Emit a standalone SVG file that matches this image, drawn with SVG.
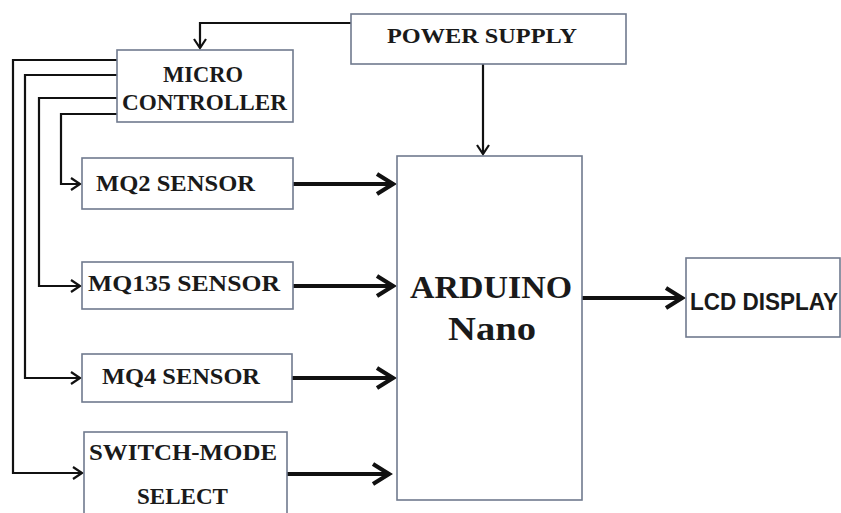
<svg xmlns="http://www.w3.org/2000/svg" width="841" height="513" viewBox="0 0 841 513">
<style>
.box{fill:#fff;stroke:#707a8e;stroke-width:1.6}
.t{font-family:"Liberation Serif","Times New Roman",serif;font-weight:bold;fill:#1a1a1a;text-anchor:middle}
.s{font-family:"Liberation Sans",Arial,sans-serif;font-weight:bold;fill:#1a1a1a;text-anchor:middle}
.thin{fill:none;stroke:#111;stroke-width:2.2;marker-end:url(#ah)}
.thick{fill:none;stroke:#111;stroke-width:4.2;marker-end:url(#ahb)}
.thinl{fill:none;stroke:#111;stroke-width:2.2}
</style>
<defs>
<marker id="ah" markerUnits="userSpaceOnUse" viewBox="0 0 14 16" markerWidth="14" markerHeight="16" refX="12" refY="8" orient="auto">
<path d="M3,2 L12,8 L3,14" fill="none" stroke="#111" stroke-width="2.2"/>
</marker>
<marker id="ahb" markerUnits="userSpaceOnUse" viewBox="0 0 24 26" markerWidth="24" markerHeight="26" refX="21" refY="13" orient="auto">
<path d="M4,3 L20,13 L4,23" fill="none" stroke="#111" stroke-width="4.2"/>
</marker>
</defs>
<rect width="841" height="513" fill="#fff"/>

<g id="connectors">
<path class="thin" d="M351,23 H200 V48"/>
<path class="thin" d="M483,64 V154"/>
<path class="thin" d="M117,60 H13 V473 H82"/>
<path class="thin" d="M117,75 H25 V378 H80"/>
<path class="thin" d="M117,98 H39 V286 H80"/>
<path class="thin" d="M117,114 H61 V184 H80"/>
<path class="thick" d="M293,184 H394"/>
<path class="thick" d="M293,286 H394"/>
<path class="thick" d="M292,378 H394"/>
<path class="thick" d="M287,474 H390"/>
<path class="thick" d="M582,298 H683"/>
</g>

<g id="power-supply">
<rect class="box" x="351" y="14" width="275" height="50"/>
<text class="t" x="482" y="43" font-size="22" textLength="190" lengthAdjust="spacingAndGlyphs">POWER SUPPLY</text>
</g>

<g id="micro-controller">
<rect class="box" x="117" y="50" width="176" height="72"/>
<text class="t" x="203" y="82" font-size="23" textLength="80" lengthAdjust="spacingAndGlyphs">MICRO</text>
<text class="t" x="204.5" y="110" font-size="23" textLength="165" lengthAdjust="spacingAndGlyphs">CONTROLLER</text>
</g>

<g id="mq2">
<rect class="box" x="82" y="158" width="211" height="51"/>
<text class="t" x="175.5" y="191" font-size="23" textLength="159" lengthAdjust="spacingAndGlyphs">MQ2 SENSOR</text>
</g>

<g id="mq135">
<rect class="box" x="82" y="262" width="211" height="47"/>
<text class="t" x="184" y="291" font-size="23" textLength="192" lengthAdjust="spacingAndGlyphs">MQ135 SENSOR</text>
</g>

<g id="mq4">
<rect class="box" x="82" y="354" width="210" height="48"/>
<text class="t" x="181" y="384" font-size="23" textLength="158" lengthAdjust="spacingAndGlyphs">MQ4 SENSOR</text>
</g>

<g id="switch-mode">
<rect class="box" x="84" y="432" width="203" height="90"/>
<text class="t" x="183" y="460" font-size="23" textLength="188" lengthAdjust="spacingAndGlyphs">SWITCH-MODE</text>
<text class="t" x="182.5" y="504" font-size="23" textLength="91" lengthAdjust="spacingAndGlyphs">SELECT</text>
</g>

<g id="arduino">
<rect class="box" x="397" y="156" width="185" height="344"/>
<text class="t" x="491" y="298" font-size="32" textLength="162" lengthAdjust="spacingAndGlyphs">ARDUINO</text>
<text class="t" x="492" y="340" font-size="33" textLength="88" lengthAdjust="spacingAndGlyphs">Nano</text>
</g>

<g id="lcd-display">
<rect class="box" x="686" y="258" width="154" height="79"/>
<text class="s" x="764" y="310" font-size="23" textLength="148" lengthAdjust="spacingAndGlyphs">LCD DISPLAY</text>
</g>
</svg>
